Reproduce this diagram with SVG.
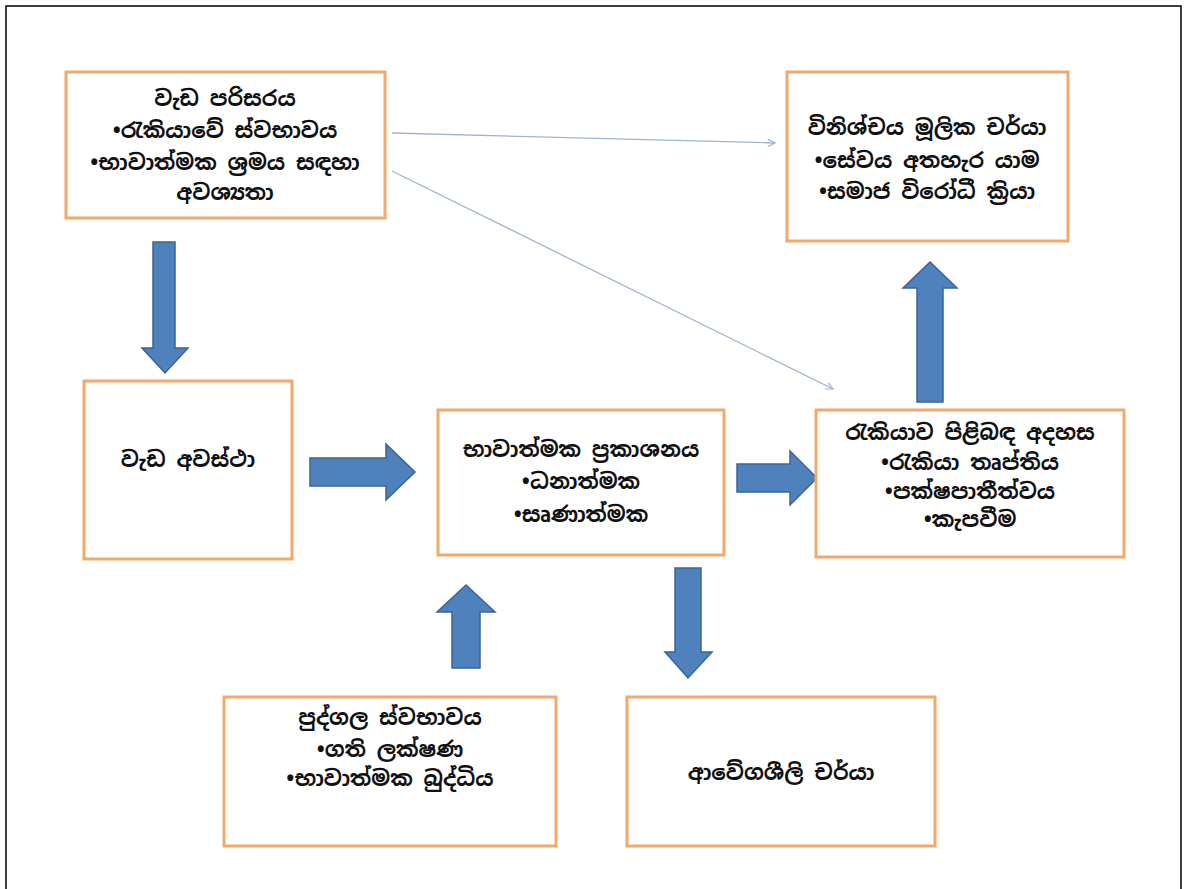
<svg xmlns="http://www.w3.org/2000/svg" width="1187" height="889" viewBox="0 0 1187 889">
<style>
.box{fill:#ffffff;stroke:#F2AA6C;stroke-width:3}
.t{font-family:"Noto Sans Sinhala","Iskoola Pota","Noto Sans","DejaVu Sans",sans-serif;font-size:21.5px;font-weight:bold;fill:#111;text-anchor:middle}
.blk{fill:#4F81BD;stroke:#3A6496;stroke-width:1.5}
.thin{fill:none;stroke:#9FB4CC;stroke-width:1.3;marker-end:url(#open)}
</style>
<defs>
<marker id="open" viewBox="0 0 10 10" refX="9" refY="5" markerWidth="9" markerHeight="9" markerUnits="userSpaceOnUse" orient="auto">
<path d="M1,1 L9,5 L1,9" fill="none" stroke="#9FB4CC" stroke-width="1.3"/>
</marker>
</defs>
<rect width="1187" height="889" fill="#ffffff"/>
<path d="M6,889 V6 H1181 V889" fill="none" stroke="#000" stroke-width="1.5"/>

<g id="connectors">
<path class="blk" d="M153,242 H175 V348 H188 L165,373 L142,348 H153 Z"/>
<path class="blk" d="M310,458 H386 V444 L415,472 L386,500 V486 H310 Z"/>
<path class="blk" d="M737,464 H790 V451 L817,478 L790,505 V492 H737 Z"/>
<path class="blk" d="M917,402 V288 H903 L930,262 L957,288 H943 V402 Z"/>
<path class="blk" d="M452,668 V612 H437 L466,585 L495,612 H480 V668 Z"/>
<path class="blk" d="M675,568 H701 V652 H712 L688,678 L665,652 H675 Z"/>
<line class="thin" x1="392" y1="133" x2="775" y2="143"/>
<line class="thin" x1="392" y1="171" x2="833" y2="389"/>
</g>

<g id="n-work-env">
<rect class="box" x="66" y="72" width="319" height="146"/>
<text class="t" x="225" y="106">වැඩ පරිසරය</text>
<text class="t" x="225" y="138">•රැකියාවේ ස්වභාවය</text>
<text class="t" x="225" y="170">•භාවාත්මක ශ්‍රමය  සඳහා</text>
<text class="t" x="225" y="200">අවශ්‍යතා</text>
</g>

<g id="n-judgment">
<rect class="box" x="787" y="72" width="281" height="169"/>
<text class="t" x="927" y="135">විනිශ්චය මූලික චර්යා</text>
<text class="t" x="927" y="168">•සේවය අතහැර යාම</text>
<text class="t" x="927" y="199">•සමාජ විරෝධී ක්‍රියා</text>
</g>

<g id="n-work-events">
<rect class="box" x="84" y="381" width="208" height="178"/>
<text class="t" x="188" y="467">වැඩ අවස්ථා</text>
</g>

<g id="n-emotional">
<rect class="box" x="438" y="410" width="286" height="145"/>
<text class="t" x="581" y="457">භාවාත්මක ප්‍රකාශනය</text>
<text class="t" x="581" y="489">•ධනාත්මක</text>
<text class="t" x="581" y="522">•සෘණාත්මක</text>
</g>

<g id="n-attitude">
<rect class="box" x="816" y="410" width="308" height="147"/>
<text class="t" x="970" y="440">රැකියාව පිළිබඳ අදහස</text>
<text class="t" x="970" y="470">•රැකියා තෘප්තිය</text>
<text class="t" x="970" y="499">•පක්ෂපාතීත්වය</text>
<text class="t" x="970" y="527">•කැපවීම</text>
</g>

<g id="n-personality">
<rect class="box" x="224" y="697" width="332" height="149"/>
<text class="t" x="390" y="725">පුද්ගල ස්වභාවය</text>
<text class="t" x="390" y="757">•ගති ලක්ෂණ</text>
<text class="t" x="390" y="786">•භාවාත්මක බුද්ධිය</text>
</g>

<g id="n-affect-driven">
<rect class="box" x="627" y="697" width="308" height="149"/>
<text class="t" x="781" y="780">ආවේගශීලි චර්යා</text>
</g>
</svg>
